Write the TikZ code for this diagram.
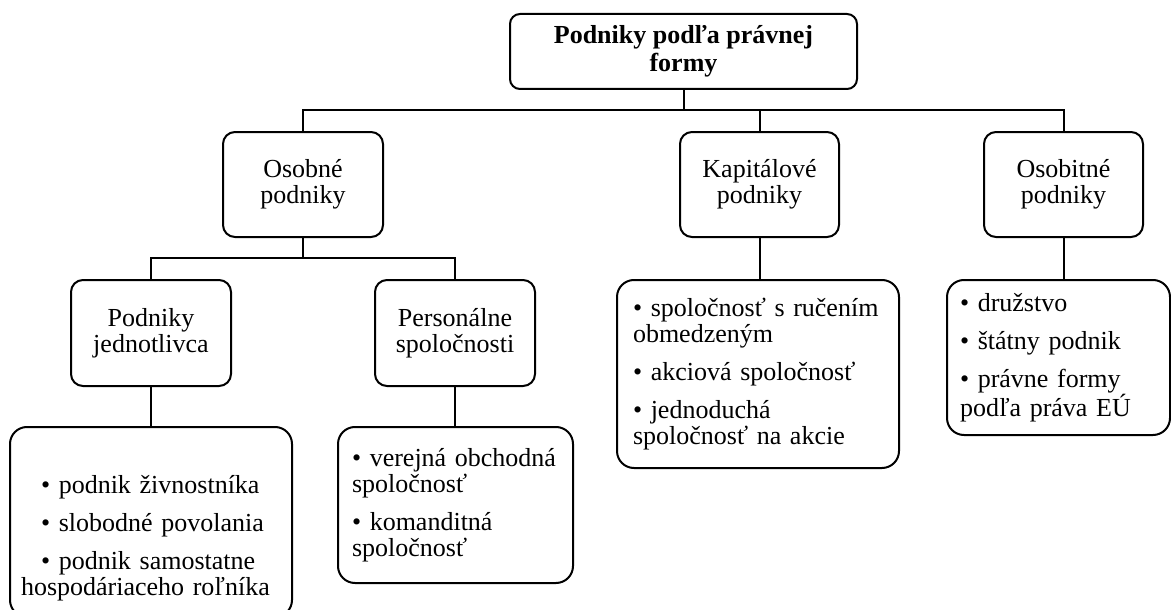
\documentclass[tikz,border=0pt]{standalone}
\usepackage{fontspec}
\setmainfont{Liberation Serif}
\newcommand{\bul}{\textbullet\ }
\newcommand{\ind}{\hspace*{20pt}}
\usepackage{tikz}
\usetikzlibrary{positioning}
\tikzset{
  formbox/.style={draw, line width=2pt, rounded corners=10pt, inner sep=0pt, align=center,
    font=\fontsize{26}{26}\selectfont\bfseries},
  grpbox/.style={draw, line width=2pt, rounded corners=12pt, inner sep=0pt, align=center,
    minimum width=160pt, minimum height=105pt, font=\fontsize{26}{26}\selectfont},
  listbox/.style={draw, line width=2pt, rounded corners=17pt, inner sep=0pt, align=left,
    font=\fontsize{26}{26}\selectfont},
  spoj/.style={line width=2pt}
}

\begin{document}
\begin{tikzpicture}[x=1pt,y=-1pt]
\useasboundingbox (0,0) rectangle (1171,610);

\node[formbox, minimum width=347pt, minimum height=75pt] (forma) at (683.5,51.5) {Podniky podľa právnej\\[2pt]formy};

% prva uroven
\node[grpbox] (osobne) at (303,184.5) {Osobné\\podniky};
\node[grpbox, minimum width=159pt] (kapital) at (759.5,184.5) {Kapitálové\\podniky};
\node[grpbox, minimum width=159pt] (osobitne) at (1063.5,184.5) {Osobitné\\podniky};

% druha uroven
\node[grpbox, minimum height=106pt] (jednotl) at (151,333) {Podniky\\jednotlivca};
\node[grpbox, minimum height=106pt] (person) at (455,333) {Personálne\\spoločnosti};

% zoznamy
\node[listbox, text width=260pt, minimum width=282pt, minimum height=190pt] (zozjedn) at (151,522)
  {\rule{0pt}{50pt}\ind\bul podnik živnostníka\\[12pt]\ind\bul slobodné povolania\\[12pt]\ind\bul podnik samostatne\\hospodáriaceho roľníka};
\node[listbox, text width=207pt, minimum width=235pt, minimum height=156pt] (zozpers) at (455.5,505)
  {\bul verejná obchodná\\spoločnosť\\[12pt]\bul komanditná\\spoločnosť};
\node[listbox, text width=250pt, minimum width=282pt, minimum height=188pt] (zozkap) at (758,374)
  {\bul spoločnosť s ručením\\obmedzeným\\[12pt]\bul akciová spoločnosť\\[12pt]\bul jednoduchá\\spoločnosť na akcie};
\node[listbox, text width=197pt, minimum width=223pt, minimum height=155pt] (zozosob) at (1058.5,357.5)
  {\bul družstvo\\[12pt]\bul štátny podnik\\[12pt]\bul právne formy\\podľa práva EÚ};

\coordinate (bus1) at (683.5,110);
\coordinate (bus2) at (303,258);

\draw[spoj] (forma.south) -- (bus1);
\draw[spoj] (osobne.north) |- (bus1) -| (osobitne.north);
\draw[spoj] (kapital.north) -- (kapital.north |- bus1);
\draw[spoj] (osobne.south) -- (bus2);
\draw[spoj] (jednotl.north) |- (bus2) -| (person.north);
\draw[spoj] (jednotl.south) -- (jednotl.south |- zozjedn.north);
\draw[spoj] (person.south) -- (person.south |- zozpers.north);
\draw[spoj] (kapital.south) -- (kapital.south |- zozkap.north);
\draw[spoj] (osobitne.south) -- (osobitne.south |- zozosob.north);
\end{tikzpicture}
\end{document}
